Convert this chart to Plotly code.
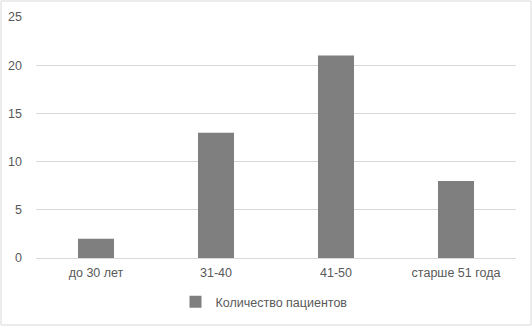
import plotly.graph_objects as go

categories = ["до 30 лет", "31-40", "41-50", "старше 51 года"]
values = [2, 13, 21, 8]
series_name = "Количество пациентов"
y_ticks = [0, 5, 10, 15, 20, 25]

W, H = 532, 327
ml, mr, mt, mb = 36, 16, 17, 69

fig = go.Figure()
fig.add_trace(go.Bar(x=categories, y=values, name=series_name,
                     marker=dict(color="#7f7f7f", line=dict(width=0))))

fig.update_layout(
    width=W, height=H,
    margin=dict(l=ml, r=mr, t=mt, b=mb, autoexpand=False),
    paper_bgcolor="white", plot_bgcolor="white",
    font=dict(family="Liberation Sans, Arial, sans-serif", size=12.5, color="#595959"),
    bargap=0.7,
    showlegend=True,
    legend=dict(orientation="h", x=0.5 - 12/480, xanchor="center", y=-44/241, yanchor="middle",
                font=dict(size=12.5, color="#595959"), itemwidth=30),
    xaxis=dict(showgrid=False, showline=True, linecolor="#d9d9d9", linewidth=1,
               ticks="", ticklabelstandoff=3, tickfont=dict(size=12.5), automargin=False),
    yaxis=dict(range=[0, 25], tickvals=y_ticks, showgrid=True, gridcolor="#d9d9d9",
               gridwidth=1, zeroline=False, showline=False, ticks="",
               ticklabelstandoff=13, tickfont=dict(size=12.5), automargin=False),
)

# outer chart border
fig.add_shape(type="rect", xref="paper", yref="paper",
              x0=-(ml - 1) / (W - ml - mr), x1=1 + (mr - 1) / (W - ml - mr),
              y0=-(mb - 2) / (H - mt - mb), y1=1 + (mt - 1) / (H - mt - mb),
              line=dict(color="#d9d9d9", width=1), layer="below")

fig.write_html("out.html", config={"displayModeBar": False},
               post_script="document.body.style.margin='0';document.body.style.overflow='hidden';")
